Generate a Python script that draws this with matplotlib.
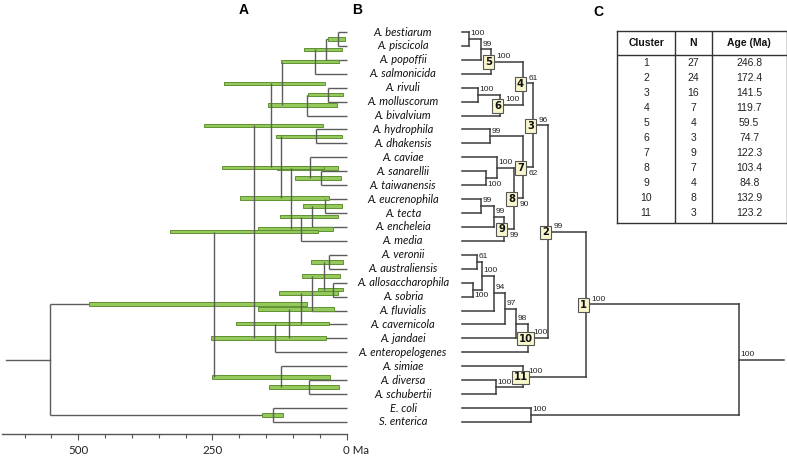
import numpy as np
import matplotlib.pyplot as plt
import matplotlib.transforms as mtrans

# tip order (top to bottom)
species = ['A. bestiarum', 'A. piscicola', 'A. popoffii', 'A. salmonicida',
           'A. rivuli', 'A. molluscorum', 'A. bivalvium', 'A. hydrophila',
           'A. dhakensis', 'A. caviae', 'A. sanarellii', 'A. taiwanensis',
           'A. eucrenophila', 'A. tecta', 'A. encheleia', 'A. media',
           'A. veronii', 'A. australiensis', 'A. allosaccharophila', 'A. sobria',
           'A. fluvialis', 'A. cavernicola', 'A. jandaei', 'A. enteropelogenes',
           'A. simiae', 'A. diversa', 'A. schubertii', 'E. coli', 'S. enterica']

# internal nodes in postorder
node_name = ['bp', 'bpp', 'c5', 'rm', 'c6', 'c4', 'hd', 'st', 'cst', 'et', 'ete', 'c9',
             'c8', 'c7', 'c3', 'va', 'as', 'vaas', 'f', 'cv', 'j', 'c10', 'c2', 'ds',
             'c11', 'c1', 'out', 'root']
node_left = ['A. bestiarum', 'bp', 'bpp', 'A. rivuli', 'rm', 'c5', 'A. hydrophila',
             'A. sanarellii', 'A. caviae', 'A. eucrenophila', 'et', 'ete', 'cst', 'hd',
             'c4', 'A. veronii', 'A. allosaccharophila', 'va', 'vaas', 'f', 'cv', 'j',
             'c3', 'A. diversa', 'A. simiae', 'c2', 'E. coli', 'c1']
node_right = ['A. piscicola', 'A. popoffii', 'A. salmonicida', 'A. molluscorum',
              'A. bivalvium', 'c6', 'A. dhakensis', 'A. taiwanensis', 'st', 'A. tecta',
              'A. encheleia', 'A. media', 'c9', 'c8', 'c7', 'A. australiensis',
              'A. sobria', 'as', 'A. fluvialis', 'A. cavernicola', 'A. jandaei',
              'A. enteropelogenes', 'c10', 'A. schubertii', 'ds', 'c11', 'S. enterica', 'out']

# panel A: node ages and 95% intervals (Ma)
node_age = [16, 38, 59.5, 35, 74.7, 119.7, 57.6, 47, 68.8, 41, 64, 84.8,
            103.4, 122.3, 141.5, 33, 25, 42, 64, 85, 107, 132.9, 172.4, 70,
            123.2, 246.8, 138, 552]
age_low = [4, 9, 15, 7, 18, 41, 9, 10, 17, 8, 17, 25,
           33, 42, 45, 7, 6, 13, 16, 23, 33, 39, 54, 14,
           32, 74, 119, np.nan]
age_high = [35, 79, 123, 72, 147, 228, 131, 97, 130, 81, 125, 165,
            198, 233, 266, 67, 53, 84, 126, 165, 207, 253, 330, 145,
            250, 480, 158, np.nan]
root_stem_age = 634

# panel B: cladogram depth of each node, bootstrap, cluster number
clado_x = [7, 19, 29, 16, 38, 61, 28, 24, 35, 19, 32, 42,
           52, 61, 71, 15, 11, 20, 32, 43, 54, 66, 86, 34,
           61, 124, 69, 277]
bootstrap = [100, 99, 100, 100, 100, 61, 99, 100, 100, 99, 99, 99,
             90, 62, 96, 61, 100, 100, 94, 97, 98, 100, 99, 100,
             100, 100, 100, 100]
cluster_of = [0, 0, 5, 0, 6, 4, 0, 0, 0, 0, 0, 9,
              8, 7, 3, 0, 0, 0, 0, 0, 0, 10, 2, 0,
              11, 1, 0, 0]
clado_stem = 322

# panel C
tab_cluster = [1, 2, 3, 4, 5, 6, 7, 8, 9, 10, 11]
tab_n = [27, 24, 16, 7, 4, 3, 9, 7, 4, 8, 3]
tab_age = [246.8, 172.4, 141.5, 119.7, 59.5, 74.7, 122.3, 103.4, 84.8, 132.9, 123.2]

# ---- layout helpers
ypos = {s: i for i, s in enumerate(species)}
for nm, l, r in zip(node_name, node_left, node_right):
    ypos[nm] = (ypos[l] + ypos[r]) / 2
age_of = {s: 0.0 for s in species}
age_of.update(dict(zip(node_name, node_age)))
cx_of = {s: 0.0 for s in species}
cx_of.update(dict(zip(node_name, clado_x)))

W, H = 787, 459
fig = plt.figure(figsize=(W / 100, H / 100), dpi=100)
YLIM = (28.862, -2.2975)

def px_axes(x0, x1, y0, y1):
    return fig.add_axes([x0 / W, 1 - y1 / H, (x1 - x0) / W, (y1 - y0) / H])

tree_col = '#5c5c5c'
bar_face = '#95c95c'
bar_edge = '#5f9233'

# ---- panel A: chronogram
ax_a = px_axes(2, 346.7, 0, 434)
ax_a.set_xlim(642, 0)
ax_a.set_ylim(*YLIM)
for nm, l, r, a in zip(node_name, node_left, node_right, node_age):
    ax_a.plot([a, a], [ypos[l], ypos[r]], color=tree_col, lw=1.0, zorder=4,
              solid_capstyle='butt')
    for ch in (l, r):
        ax_a.plot([age_of[ch], a], [ypos[ch], ypos[ch]], color=tree_col, lw=1.0,
                  zorder=2, clip_on=False, solid_capstyle='butt')
ax_a.plot([node_age[-1], root_stem_age], [ypos['root'], ypos['root']],
          color=tree_col, lw=1.0, zorder=2)
for nm, lo, hi in zip(node_name, age_low, age_high):
    if np.isnan(lo):
        continue
    ax_a.barh(ypos[nm], hi - lo, left=lo, height=0.26, color=bar_face,
              edgecolor=bar_edge, linewidth=0.7, zorder=3)

for s in ['top', 'left', 'right']:
    ax_a.spines[s].set_visible(False)
ax_a.spines['bottom'].set_color('#555555')
ax_a.spines['bottom'].set_linewidth(1.0)
ax_a.set_yticks([])
ax_a.set_xticks([500, 250, 0])
ax_a.set_xticklabels(['500', '250', '0 Ma'], fontsize=8.3, family='Lato', color='#222222')
ax_a.set_xticks(np.arange(50, 650, 50), minor=True)
ax_a.tick_params(axis='x', which='major', length=4, width=0.8, color='#555555', pad=4)
ax_a.tick_params(axis='x', which='minor', length=3, width=0.8, color='#555555')
lab0 = ax_a.get_xticklabels()[-1]
lab0.set_ha('left')
lab0.set_transform(lab0.get_transform() + mtrans.ScaledTranslation(-0.035, 0, fig.dpi_scale_trans))

# ---- panel B: cladogram with species names
ax_b = px_axes(360, 787, 0, 434)
ax_b.set_xlim(-102, 325)
ax_b.set_ylim(*YLIM)
ax_b.axis('off')
line_b = '#3c3c3c'
for nm, l, r, x in zip(node_name, node_left, node_right, clado_x):
    ax_b.plot([x, x], [ypos[l], ypos[r]], color=line_b, lw=1.1, solid_capstyle='projecting')
    for ch in (l, r):
        ax_b.plot([cx_of[ch], x], [ypos[ch], ypos[ch]], color=line_b, lw=1.1,
                  solid_capstyle='projecting')
ax_b.plot([clado_x[-1], clado_stem], [ypos['root'], ypos['root']], color=line_b, lw=1.1)

for s in species:
    ax_b.text(-59, ypos[s], s, ha='center', va='center', fontsize=8,
              family='Lato', style='italic', color='#111111')

below = {'st', 'as', 'c7', 'c8', 'c9'}
for nm, x, bs, cl in zip(node_name, clado_x, bootstrap, cluster_of):
    y = ypos[nm]
    dx = 5.5 if cl else 1.5
    if nm in below:
        ax_b.text(x + dx, y + 0.2, str(bs), ha='left', va='top', fontsize=6,
                  family='Liberation Sans', color='#222222')
    else:
        ax_b.text(x + dx, y - 0.12, str(bs), ha='left', va='bottom', fontsize=6,
                  family='Liberation Sans', color='#222222')
    if cl:
        ax_b.text(x - 2.5, y + 0.05, str(cl), ha='center', va='center', fontsize=7.2,
                  fontweight='bold', family='DejaVu Sans', color='#111111', zorder=5,
                  bbox=dict(boxstyle='square,pad=0.18', fc='#f8f6cc', ec='#555555', lw=0.8))

# ---- panel C: table
ax_c = px_axes(617.3, 786.7, 30.7, 222.7)
ax_c.set_xlim(0, 169.4)
ax_c.set_ylim(192, 0)
ax_c.set_xticks([])
ax_c.set_yticks([])
for s in ax_c.spines.values():
    s.set_color('#333333')
    s.set_linewidth(1.0)
ax_c.axhline(24.6, color='#333333', lw=1.0)
for xs in (57.7, 94.4):
    ax_c.axvline(xs, color='#333333', lw=1.0)
col_cx = [28.9, 76.0, 131.9]
for cx, h in zip(col_cx, ['Cluster', 'N', 'Age (Ma)']):
    ax_c.text(cx, 12.5, h, ha='center', va='center', fontsize=7.5, fontweight='bold',
              family='Liberation Sans', color='#111111')
for k, (c, n, a) in enumerate(zip(tab_cluster, tab_n, tab_age)):
    yy = 32.6 + 15.0 * k
    for cx, v in zip(col_cx, [str(c), str(n), f'{a:.1f}']):
        ax_c.text(cx, yy, v, ha='center', va='center', fontsize=7.5,
                  family='Liberation Sans', color='#222222')

# panel letters
for lx, ly, t in [(244, 10, 'A'), (357, 10, 'B'), (598, 12, 'C')]:
    fig.text(lx / W, 1 - ly / H, t, ha='center', va='center', fontsize=10,
             fontweight='bold', family='Liberation Sans')

fig.savefig('out.png', dpi=100)
